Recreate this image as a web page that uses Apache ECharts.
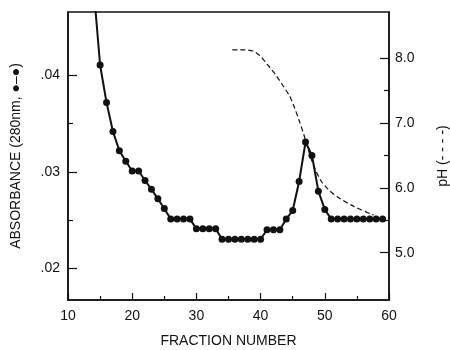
<!DOCTYPE html>
<html>
<head>
<meta charset="utf-8">
<script src="https://cdn.jsdelivr.net/npm/echarts@6/dist/echarts.min.js"></script>
<style>
html,body{margin:0;padding:0;background:#fff;}
#chart{width:450px;height:350px;}
</style>
</head>
<body>
<div id="chart"></div>
<script>
// Absorbance (280 nm) per fraction
var fractions = [14,15,16,17,18,19,20,21,22,23,24,25,26,27,28,29,30,31,32,33,34,35,36,37,38,39,40,41,42,43,44,45,46,47,48,49,50,51,52,53,54,55,56,57,58,59];
var absorbance = [0.0490,0.0411,0.0372,0.0342,0.0322,0.0311,0.0301,0.0301,0.0291,0.0282,0.0272,0.0262,0.0251,0.0251,0.0251,0.0251,0.0241,0.0241,0.0241,0.0241,0.0230,0.0230,0.0230,0.0230,0.0230,0.0230,0.0230,0.0240,0.0240,0.0240,0.0251,0.0260,0.0290,0.0331,0.0317,0.0280,0.0261,0.0251,0.0251,0.0251,0.0251,0.0251,0.0251,0.0251,0.0251,0.0251];
// pH curve (dashed)
var phFractions = [35.6,37.5,38.9,40.0,41.0,42.3,43.6,44.5,45.2,46.0,46.8,47.8,48.5,49.4,50.5,52.0,54.6,57.6];
var phValues = [8.13,8.13,8.11,8.03,7.91,7.75,7.56,7.42,7.26,7.04,6.80,6.47,6.29,6.11,5.98,5.86,5.71,5.58];
// tick labels
var xTicks = [10,20,30,40,50,60];
var absTicks = [0.02,0.03,0.04];
var absMinorTicks = [0.025,0.035];
var phTicks = [5.0,6.0,7.0,8.0];
var phMinorTicks = [5.5,6.5,7.5];

var absData = fractions.map(function(f,i){return [f, absorbance[i]];});
var phData = phFractions.map(function(f,i){return [f, phValues[i]];});

var FONT = 'Liberation Sans, Arial, sans-serif';
var INK = '#111';
var ABS_MIN = 0.0167, ABS_MAX = 0.0466, PH_MIN = 4.27, PH_MAX = 8.714;

var chart = echarts.init(document.getElementById('chart'), null, {renderer:'canvas'});
chart.setOption({
  animation: false,
  backgroundColor: '#fff',
  grid: {left: 68, right: 61, top: 12, bottom: 50, containLabel: false, outerBoundsMode: 'none',
    show: true, borderColor: INK, borderWidth: 1.5, backgroundColor: 'transparent'},
  xAxis: [{
    type: 'value', min: 10, max: 60, interval: 10, position: 'bottom',
    name: 'FRACTION NUMBER', nameLocation: 'middle', nameGap: 34,
    nameTextStyle: {fontFamily: FONT, fontSize: 14, color: INK},
    axisLine: {show: true, lineStyle: {color: INK, width: 1.5}},
    axisTick: {show: true, inside: true, length: 7, lineStyle: {color: INK, width: 1.2}},
    minorTick: {show: true, splitNumber: 2, length: 4, lineStyle: {color: INK, width: 1.2}},
    axisLabel: {fontFamily: FONT, fontSize: 14, color: INK, margin: 9,
      customValues: xTicks, formatter: function(v){return String(v);}},
    splitLine: {show: false}
  }],
  yAxis: [{
    type: 'value', min: ABS_MIN, max: ABS_MAX, position: 'left',
    name: 'ABSORBANCE (280nm, \u25CF\u2013\u25CF)', nameLocation: 'middle', nameRotate: 90, nameGap: 45,
    nameTextStyle: {fontFamily: FONT, fontSize: 14, color: INK},
    axisLine: {show: true, lineStyle: {color: INK, width: 1.5}},
    axisTick: {show: true, inside: true, length: 9, customValues: absTicks, lineStyle: {color: INK, width: 1.2}},
    axisLabel: {fontFamily: FONT, fontSize: 14, color: INK, margin: 8, customValues: absTicks,
      formatter: function(v){return v.toFixed(2).replace(/^0/, '');}},
    splitLine: {show: false}
  },{
    type: 'value', min: ABS_MIN, max: ABS_MAX, position: 'left',
    axisLine: {show: false},
    axisTick: {show: true, inside: true, length: 5, customValues: absMinorTicks, lineStyle: {color: INK, width: 1.2}},
    axisLabel: {show: false},
    splitLine: {show: false}
  },{
    type: 'value', min: PH_MIN, max: PH_MAX, position: 'right',
    name: 'pH (- - - -)', nameLocation: 'middle', nameRotate: 90, nameGap: 47,
    nameTextStyle: {fontFamily: FONT, fontSize: 14, color: INK},
    axisLine: {show: true, lineStyle: {color: INK, width: 1.5}},
    axisTick: {show: true, inside: true, length: 9, customValues: phTicks, lineStyle: {color: INK, width: 1.2}},
    axisLabel: {fontFamily: FONT, fontSize: 14, color: INK, margin: 6, customValues: phTicks,
      formatter: function(v){return v.toFixed(1);}},
    splitLine: {show: false}
  },{
    type: 'value', min: PH_MIN, max: PH_MAX, position: 'right',
    axisLine: {show: false},
    axisTick: {show: true, inside: true, length: 5, customValues: phMinorTicks, lineStyle: {color: INK, width: 1.2}},
    axisLabel: {show: false},
    splitLine: {show: false}
  }],
  series: [{
    type: 'line', yAxisIndex: 2, data: phData, smooth: 0.3,
    showSymbol: false, clip: true,
    lineStyle: {color: INK, width: 1.2, type: [5, 3]}, z: 2
  },{
    type: 'line', yAxisIndex: 0, data: absData, clip: true,
    symbol: 'circle', symbolSize: 7, showAllSymbol: true,
    itemStyle: {color: INK},
    lineStyle: {color: INK, width: 2}, z: 3
  }]
});
</script>
</body>
</html>
